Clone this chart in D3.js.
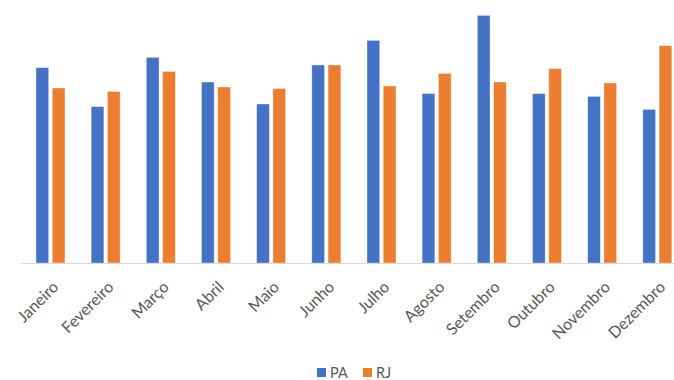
<!DOCTYPE html>
<html>
<head>
<meta charset="utf-8">
<script src="https://cdn.jsdelivr.net/npm/d3@7"></script>
<style>
  html, body { margin: 0; padding: 0; background: #fff; }
  svg { display: block; }
</style>
</head>
<body>
<svg id="chart" width="674" height="380"></svg>
<script>
// Monthly values for the two states
const months = ["Janeiro", "Fevereiro", "Março", "Abril", "Maio", "Junho",
                "Julho", "Agosto", "Setembro", "Outubro", "Novembro", "Dezembro"];
const seriesNames = ["PA", "RJ"];
const valuesPA = [97.7, 78.2, 102.8, 90.5, 79.5, 99.0, 111.3, 84.7, 123.8, 84.7, 83.3, 76.8];
const valuesRJ = [87.5, 85.8, 95.8, 88.0, 87.2, 99.0, 88.5, 94.8, 90.5, 97.2, 90.0, 108.7];
const colors = ["#4472C4", "#ED7D31"];

const svg = d3.select("#chart");
const W = 674, H = 380;
const baseY = 263;
const font = "Lato, 'Open Sans', sans-serif";

const data = months.map((m, i) => ({ month: m, values: [valuesPA[i], valuesRJ[i]] }));

// Category band; the plot runs past the right edge of the frame
const x0 = d3.scaleBand().domain(months).range([22.9, 684.9]).paddingInner(0).paddingOuter(0);
const x1 = d3.scaleBand().domain(seriesNames).range([x0.bandwidth() / 2 - 14.5, x0.bandwidth() / 2 + 14.5]).paddingInner(0.22);
const y = d3.scaleLinear().domain([0, 130]).range([baseY, baseY - 260]);

// Bars
const groups = svg.append("g").selectAll("g")
  .data(data).join("g")
  .attr("transform", d => `translate(${x0(d.month)},0)`);

groups.selectAll("rect")
  .data(d => d.values.map((v, k) => ({ key: seriesNames[k], v, k })))
  .join("rect")
  .attr("x", d => x1(d.key))
  .attr("width", x1.bandwidth())
  .attr("y", d => y(d.v))
  .attr("height", d => y(0) - y(d.v))
  .attr("fill", d => colors[d.k])
  .attr("stroke", "#ffffff")
  .attr("stroke-opacity", 0.45)
  .attr("stroke-width", 0.8);

// Category axis
const xAxis = d3.axisBottom(x0).tickSize(0).tickPadding(0);
const axisG = svg.append("g").attr("transform", `translate(0,${baseY})`).call(xAxis);
axisG.select(".domain").remove();
axisG.append("line")
  .attr("x1", 21).attr("x2", W)
  .attr("y1", 0.5).attr("y2", 0.5)
  .attr("stroke", "#d9d9d9").attr("stroke-width", 1.2);
axisG.selectAll(".tick text")
  .attr("font-family", font)
  .attr("font-size", 16)
  .attr("fill", "#595959")
  .attr("text-anchor", "end")
  .attr("dy", 0)
  .attr("transform", "translate(9,25) rotate(-45)");

// Legend
const legend = svg.append("g").attr("transform", "translate(317,368)");
const legendItems = legend.selectAll("g")
  .data(seriesNames).join("g")
  .attr("transform", (d, i) => `translate(${i * 46},0)`);
legendItems.append("rect")
  .attr("width", 9).attr("height", 9)
  .attr("fill", (d, i) => colors[i]);
legendItems.append("text")
  .attr("x", 13).attr("y", 9.5)
  .attr("font-family", font)
  .attr("font-size", 14.5)
  .attr("fill", "#595959")
  .text(d => d);
</script>
</body>
</html>
